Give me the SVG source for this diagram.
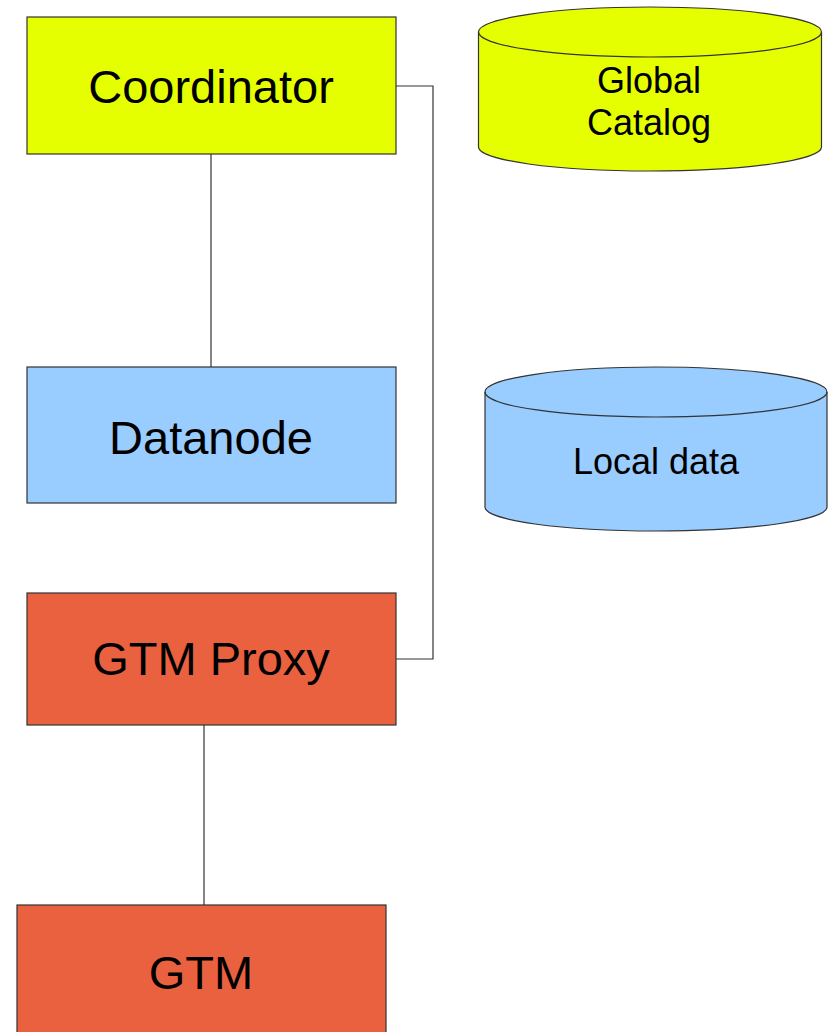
<svg xmlns="http://www.w3.org/2000/svg" width="829" height="1032" viewBox="0 0 829 1032">
<style>
.box{stroke:#333;stroke-width:1.2}
.lbl{font-family:"Liberation Sans",Arial,sans-serif;font-size:47px;fill:#000;text-anchor:middle}
.dlbl{font-family:"Liberation Sans",Arial,sans-serif;font-size:36px;fill:#000;text-anchor:middle}
.conn{fill:none;stroke:#333;stroke-width:1.2}
</style>
<rect width="829" height="1032" fill="#fff"/>
<g id="connectors">
<line class="conn" x1="211" y1="154" x2="211" y2="367"/>
<line class="conn" x1="204" y1="725" x2="204" y2="905"/>
<polyline class="conn" points="396,86 433,86 433,659 396,659"/>
</g>
<g id="coordinator">
<rect class="box" x="27" y="17" width="369" height="137" fill="#e6ff00"/>
<text class="lbl" x="211" y="103">Coordinator</text>
</g>
<g id="datanode">
<rect class="box" x="27" y="367" width="369" height="136" fill="#99ccff"/>
<text class="lbl" x="211" y="454">Datanode</text>
</g>
<g id="gtmproxy">
<rect class="box" x="27" y="593" width="369" height="132" fill="#ea6140"/>
<text class="lbl" x="211" y="675">GTM Proxy</text>
</g>
<g id="gtm">
<rect class="box" x="17" y="905" width="369" height="140" fill="#ea6140"/>
<text class="lbl" x="201" y="989">GTM</text>
</g>
<g id="globalcatalog">
<path class="box" d="M478.5,32 L478.5,147 A171.5,24 0 0 0 821.5,147 L821.5,32 A171.5,25 0 0 0 478.5,32 Z" fill="#e6ff00"/>
<path class="box" d="M478.5,32 A171.5,25 0 0 0 821.5,32" fill="none"/>
<text class="dlbl" x="649" y="92.5">Global</text>
<text class="dlbl" x="649" y="134.5">Catalog</text>
</g>
<g id="localdata">
<path class="box" d="M485,392 L485,507 A171,24 0 0 0 827,507 L827,392 A171,25 0 0 0 485,392 Z" fill="#99ccff"/>
<path class="box" d="M485,392 A171,25 0 0 0 827,392" fill="none"/>
<text class="dlbl" x="656" y="474">Local data</text>
</g>
</svg>
